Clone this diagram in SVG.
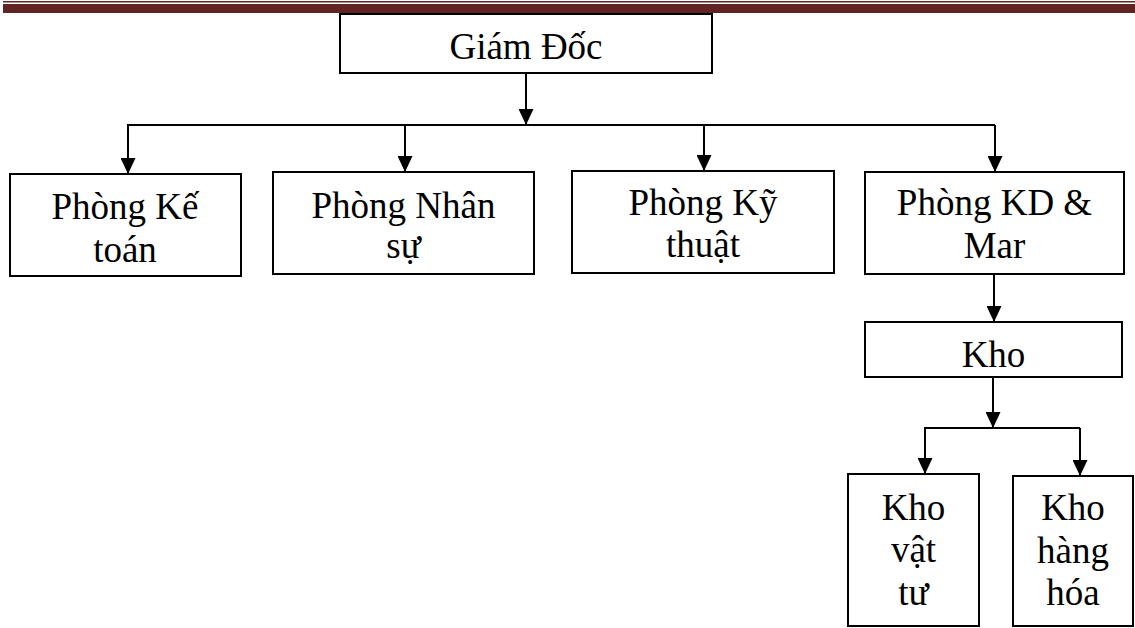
<svg xmlns="http://www.w3.org/2000/svg" width="1135" height="628" viewBox="0 0 1135 628">
  <style>
    .box { fill: #ffffff; stroke: #000000; stroke-width: 2; }
    .label { font-family: "Liberation Serif", "Times New Roman", serif; font-size: 37px; fill: #000000; text-anchor: middle; }
    .wire { fill: none; stroke: #000000; stroke-width: 2; }
    .arrow { fill: none; stroke: #000000; stroke-width: 2; marker-end: url(#head); }
  </style>
  <defs>
    <marker id="head" viewBox="0 0 16 15" refX="16" refY="7.5" markerWidth="16" markerHeight="15" markerUnits="userSpaceOnUse" orient="auto">
      <path d="M0,0 L16,7.5 L0,15 z" fill="#000000"/>
    </marker>
  </defs>
  <rect width="1135" height="628" fill="#ffffff"/>

  <!-- header rule -->
  <g id="header">
    <rect x="3" y="1" width="1132" height="1.5" fill="#622423"/>
    <rect x="3" y="4" width="1132" height="9" fill="#622423"/>
  </g>

  <!-- connectors -->
  <g id="connectors">
    <path class="arrow" d="M526,73 L526,125"/>
    <path class="wire" d="M127,125 L995,125"/>
    <path class="arrow" d="M128,125 L128,174"/>
    <path class="arrow" d="M405,125 L405,172"/>
    <path class="arrow" d="M704,125 L704,171"/>
    <path class="arrow" d="M995,125 L995,172"/>
    <path class="arrow" d="M994,274 L994,322"/>
    <path class="arrow" d="M993,377 L993,428"/>
    <path class="wire" d="M924,428 L1080,428"/>
    <path class="arrow" d="M925,428 L925,474"/>
    <path class="arrow" d="M1080,428 L1080,476"/>
  </g>

  <g id="giam-doc">
    <rect class="box" x="340" y="14" width="372" height="59"/>
    <text class="label" x="526" y="59">Giám Đốc</text>
  </g>

  <g id="phong-ke-toan">
    <rect class="box" x="10" y="174" width="231" height="102"/>
    <text class="label" x="125" y="219">Phòng Kế</text>
    <text class="label" x="125" y="262">toán</text>
  </g>

  <g id="phong-nhan-su">
    <rect class="box" x="273" y="172" width="261" height="102"/>
    <text class="label" x="403.5" y="218">Phòng Nhân</text>
    <text class="label" x="403.5" y="258">sự</text>
  </g>

  <g id="phong-ky-thuat">
    <rect class="box" x="572" y="171" width="262" height="102"/>
    <text class="label" x="703" y="215">Phòng Kỹ</text>
    <text class="label" x="703" y="257">thuật</text>
  </g>

  <g id="phong-kd-mar">
    <rect class="box" x="865" y="172" width="259" height="102"/>
    <text class="label" x="994.5" y="215">Phòng KD &amp;</text>
    <text class="label" x="994.5" y="258">Mar</text>
  </g>

  <g id="kho">
    <rect class="box" x="865" y="322" width="257" height="55"/>
    <text class="label" x="993.5" y="367">Kho</text>
  </g>

  <g id="kho-vat-tu">
    <rect class="box" x="848" y="474" width="131" height="152"/>
    <text class="label" x="913.5" y="520">Kho</text>
    <text class="label" x="913.5" y="562">vật</text>
    <text class="label" x="913.5" y="605">tư</text>
  </g>

  <g id="kho-hang-hoa">
    <rect class="box" x="1013" y="476" width="120" height="150"/>
    <text class="label" x="1073" y="520">Kho</text>
    <text class="label" x="1073" y="563">hàng</text>
    <text class="label" x="1073" y="605">hóa</text>
  </g>
</svg>
